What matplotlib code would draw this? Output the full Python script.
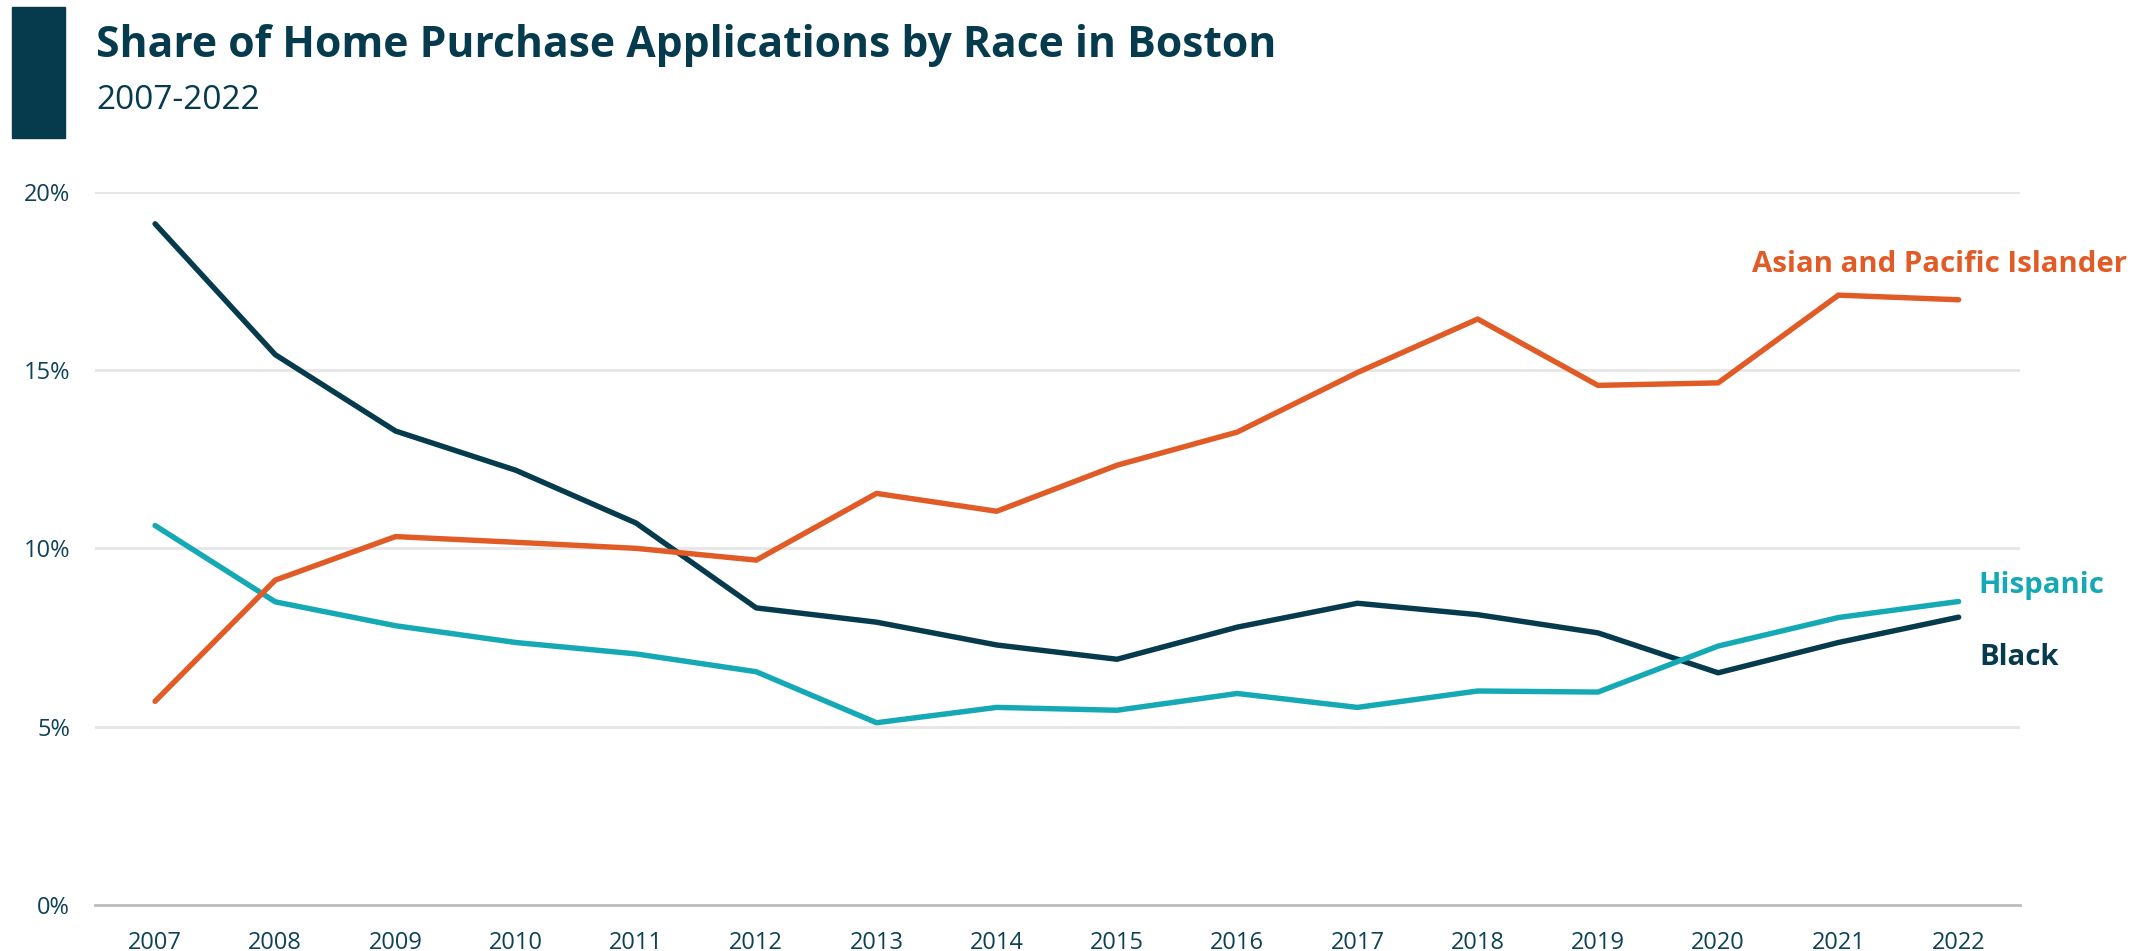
import matplotlib
matplotlib.use("Agg")
import matplotlib.pyplot as plt
from matplotlib.patches import Rectangle

# ==========================================================
# DATA
# ==========================================================

years = list(range(2007, 2023))

asian_pi = [5.71, 9.11, 10.33, 10.17, 10.00, 9.67, 11.54, 11.04,
            12.33, 13.26, 14.93, 16.43, 14.57, 14.64, 17.10, 16.97]

hispanic = [10.64, 8.50, 7.83, 7.36, 7.04, 6.54, 5.11, 5.54,
            5.46, 5.93, 5.54, 6.00, 5.97, 7.26, 8.06, 8.51]

black = [19.10, 15.43, 13.29, 12.19, 10.71, 8.33, 7.93, 7.29,
         6.89, 7.79, 8.46, 8.14, 7.63, 6.51, 7.36, 8.07]

y_ticks = [0, 5, 10, 15, 20]
y_tick_labels = ["0%", "5%", "10%", "15%", "20%"]

title = "Share of Home Purchase Applications by Race in Boston"
subtitle = "2007-2022"

# ==========================================================
# STYLE
# ==========================================================

NAVY = "#063b4d"
ORANGE = "#e15b26"
TEAL = "#14a9b5"
TEXT = "#0d4257"

plt.rcParams["font.family"] = ["Open Sans", "DejaVu Sans"]

fig = plt.figure(figsize=(21.48, 9.51), dpi=100)
ax = fig.add_axes([0.0442, 0.0484, 0.8962, 0.75])

# ==========================================================
# LINES
# ==========================================================

series = [
    (black, NAVY),
    (hispanic, TEAL),
    (asian_pi, ORANGE),
]

for values, color in series:
    ax.plot(
        years,
        values,
        color=color,
        linewidth=3.9,
        solid_capstyle="round",
        solid_joinstyle="round",
        zorder=3
    )

# direct labels
ax.text(2020.28, 17.74, "Asian and Pacific Islander", color=ORANGE,
        fontsize=21.2, fontweight="bold", va="baseline", ha="left")
ax.text(2022.16, 8.76, "Hispanic", color=TEAL,
        fontsize=21.2, fontweight="bold", va="baseline", ha="left")
ax.text(2022.17, 6.73, "Black", color=NAVY,
        fontsize=21.2, fontweight="bold", va="baseline", ha="left",
        clip_on=False)

# ==========================================================
# AXES
# ==========================================================

ax.set_xlim(2006.5, 2022.51)
ax.set_ylim(0, 20)

ax.set_xticks(years)
ax.set_xticklabels([str(y) for y in years])
ax.set_yticks(y_ticks)
ax.set_yticklabels(y_tick_labels)

ax.tick_params(axis="both", length=0, labelsize=17, labelcolor=TEXT)
ax.tick_params(axis="x", pad=18.5)
ax.tick_params(axis="y", pad=18)

for side in ["top", "right", "left"]:
    ax.spines[side].set_visible(False)
ax.spines["bottom"].set_color("#bdbdbd")
ax.spines["bottom"].set_linewidth(2)

ax.grid(axis="y", color="#e6e6e6", linewidth=2)
ax.set_axisbelow(True)

# ==========================================================
# HEADER
# ==========================================================

fig.patches.append(Rectangle(
    (12 / 2148, 1 - 137.7 / 951), 53 / 2148, 131 / 951,
    transform=fig.transFigure, color=NAVY
))

fig.text(96 / 2148, 1 - 57 / 951, title, fontsize=30.7,
         fontweight="bold", color=NAVY, va="baseline", ha="left")
fig.text(96 / 2148, 1 - 109 / 951, subtitle, fontsize=24,
         color=NAVY, va="baseline", ha="left")

fig.savefig("out.png", dpi=100)
